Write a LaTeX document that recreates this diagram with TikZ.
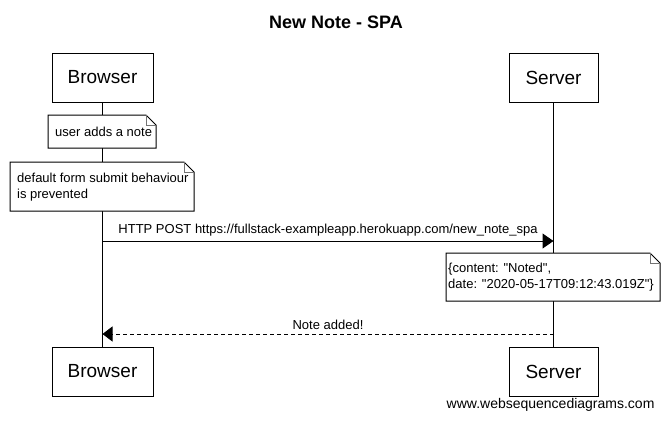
\documentclass[tikz,border=0pt]{standalone}
\usepackage{fontspec}
\setmainfont{Liberation Sans}
\usetikzlibrary{arrows.meta}
\newcommand{\notesize}{\fontsize{13}{16}\selectfont}
\newcommand{\dognote}[4]{%
        \draw[line width = 1pt, fill=white] (#1, #2) -- (#3-10, #2) -- (#3, #2+10) -- (#3, #4) -- (#1, #4) -- cycle;
        \draw[line width = .8pt, black!55] (#3-10, #2) -- (#3-10, #2+10) -- (#3, #2+10);}
\tikzset{
        actor/.style={draw, line width = 1pt, minimum height = 49pt, inner sep = 0pt, font=\fontsize{19}{22}\selectfont},
        notetext/.style={anchor = west, align = left, inner sep = 0pt, font=\notesize},
}
\begin{document}
\begin{tikzpicture}[x=1pt, y=-1pt]
        \useasboundingbox (0, 0) rectangle (670, 421);
        \node[font=\fontsize{18}{22}\selectfont\bfseries] (title) at (336, 22) {New Note - SPA};
        \node[actor, minimum width = 101pt] (browsertop) at (102.5, 77.5) {Browser};
        \node[actor, minimum width = 89pt] (servertop) at (553.5, 77.5) {Server};
        \node[actor, minimum width = 101pt] (browserbot) at (102.5, 371.5) {Browser};
        \node[actor, minimum width = 89pt] (serverbot) at (553.5, 371.5) {Server};
        \draw[line width = 1pt] (browsertop.south) -- (browserbot.north);
        \draw[line width = 1pt] (servertop.south) -- (serverbot.north);
        \dognote{48}{115}{156}{148}
        \node[notetext] (adds) at (55, 132) {user adds a note};
        \dognote{10}{162}{194}{211}
        \node[notetext] (prevented) at (17, 187.5) {default form submit behaviour\\is prevented};
        \coordinate (b1) at (102.5, 241);
        \coordinate (s1) at (553.5, 241);
        \draw[line width = 1pt, -{Triangle[length=11pt, width=15pt]}] (b1) -- (s1)
                node[midway, above = 1pt, font=\notesize] (post) {HTTP POST https://fullstack-exampleapp.herokuapp.com/new\_note\_spa};
        \dognote{446}{253}{660}{301}
        \node[notetext] (json) at (448, 277.5) {\{content: \textquotedbl Noted\textquotedbl,\\date: \textquotedbl 2020-05-17T09:12:43.019Z\textquotedbl\}};
        \coordinate (s2) at (553.5, 334);
        \coordinate (b2) at (102.5, 334);
        \draw[line width = 1pt, dash pattern = on 4pt off 3pt, -{Triangle[length=10pt, width=15pt]}] (s2) -- (b2)
                node[midway, above = 1pt, font=\notesize] (added) {Note added!};
        \node[anchor = east, font=\fontsize{14}{17}\selectfont] (wsd) at (658, 405) {www.websequencediagrams.com};
\end{tikzpicture}
\end{document}
